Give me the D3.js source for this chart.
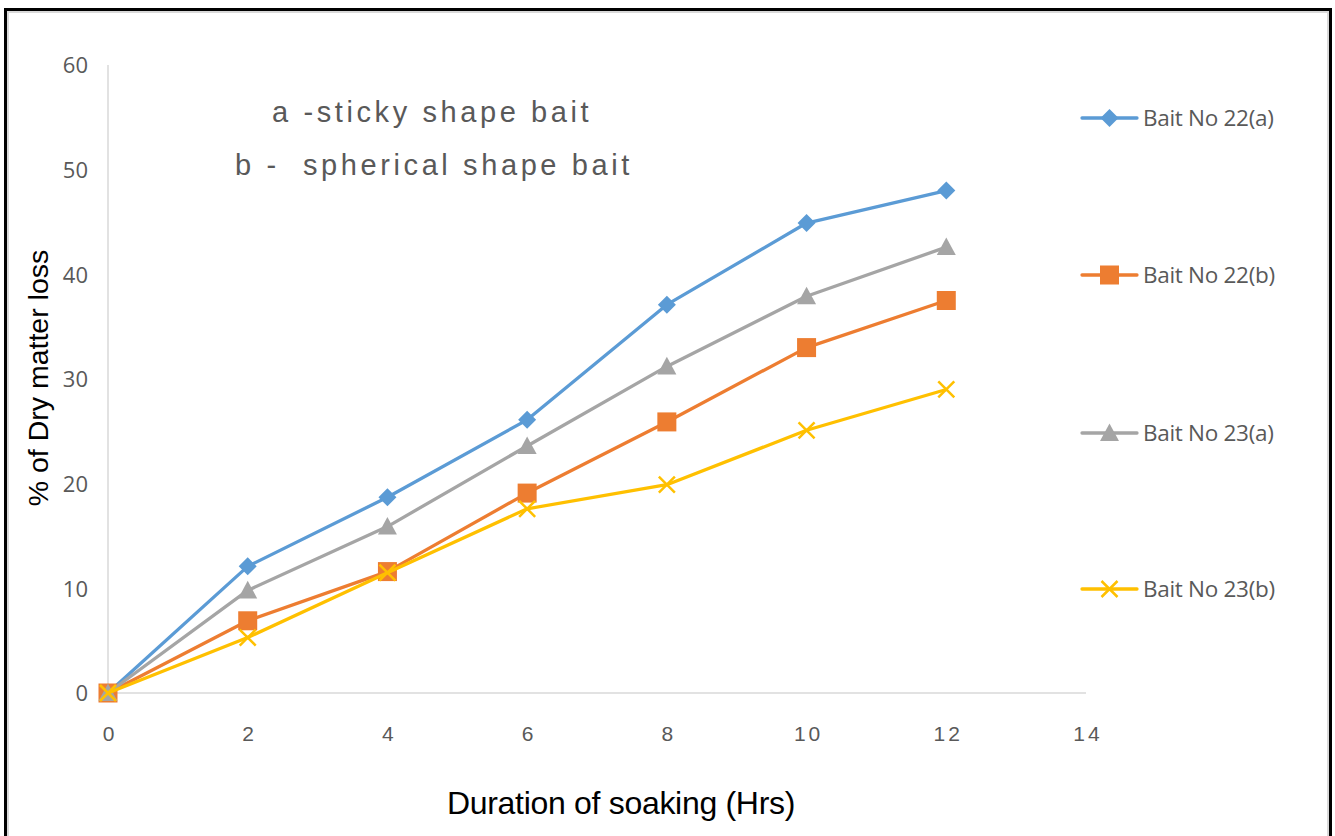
<!DOCTYPE html>
<html>
<head>
<meta charset="utf-8">
<script src="https://cdn.jsdelivr.net/npm/d3@7"></script>
<style>
  html, body { margin: 0; padding: 0; background: #fff; }
  svg { display: block; }
</style>
</head>
<body>
<svg id="chart" width="1335" height="836"></svg>
<script>
// Soaking durations (hours)
const hours = [0, 2, 4, 6, 8, 10, 12];

// % dry matter loss for each bait
const bait22a = [0, 12.1, 18.7, 26.1, 37.1, 44.9, 48.0];
const bait22b = [0, 6.9, 11.6, 19.1, 25.9, 33.0, 37.5];
const bait23a = [0, 9.8, 15.9, 23.6, 31.2, 37.9, 42.6];
const bait23b = [0, 5.3, 11.5, 17.6, 19.9, 25.1, 29.0];

const seriesNames = ["Bait No 22(a)", "Bait No 22(b)", "Bait No 23(a)", "Bait No 23(b)"];
const xTicks = [0, 2, 4, 6, 8, 10, 12, 14];
const yTicks = [0, 10, 20, 30, 40, 50, 60];
const notes = ["a -sticky shape bait", "b -  spherical shape bait"];

const series = [
  { name: seriesNames[0], values: bait22a, color: "#5b9bd5", marker: "diamond" },
  { name: seriesNames[1], values: bait22b, color: "#ed7d31", marker: "square" },
  { name: seriesNames[2], values: bait23a, color: "#a5a5a5", marker: "triangle" },
  { name: seriesNames[3], values: bait23b, color: "#ffc000", marker: "cross" }
];

const svg = d3.select("#chart");

// frame
svg.append("rect")
  .attr("x", 5.5).attr("y", 9.5).attr("width", 1325).attr("height", 840)
  .attr("fill", "none").attr("stroke", "#000").attr("stroke-width", 3);
svg.append("rect")
  .attr("x", 8).attr("y", 12).attr("width", 1320).attr("height", 840)
  .attr("fill", "none").attr("stroke", "#d9d9d9").attr("stroke-width", 2);

const x = d3.scaleLinear().domain([0, 14]).range([108, 1086]);
const y = d3.scaleLinear().domain([0, 60]).range([693, 65]);

// axis lines
svg.append("line")
  .attr("x1", x(0)).attr("x2", x(0)).attr("y1", y(60)).attr("y2", y(0))
  .attr("stroke", "#d9d9d9").attr("stroke-width", 1.5);
svg.append("line")
  .attr("x1", x(0)).attr("x2", x(14)).attr("y1", y(0)).attr("y2", y(0))
  .attr("stroke", "#d9d9d9").attr("stroke-width", 1.5);

// y tick labels
const yAxis = d3.axisLeft(y).tickValues(yTicks).tickSize(0).tickPadding(0);
const gy = svg.append("g").attr("transform", "translate(88,0)").call(yAxis);
gy.select(".domain").remove();
gy.selectAll("text")
  .attr("font-family", "'Open Sans', 'Liberation Sans', sans-serif")
  .attr("font-size", 22).attr("fill", "#595959").attr("dy", "0.35em");

// x tick labels
const xAxis = d3.axisBottom(x).tickValues(xTicks).tickSize(0).tickPadding(0);
const gx = svg.append("g").attr("transform", "translate(0,726)").call(xAxis);
gx.select(".domain").remove();
gx.selectAll("text")
  .attr("font-family", "'Liberation Sans', Arial, sans-serif")
  .attr("font-size", 21).attr("fill", "#595959")
  .attr("letter-spacing", "3px").attr("dy", "0.71em")
  .attr("dx", "1.5px");

// axis titles
svg.append("text")
  .attr("x", 621).attr("y", 814)
  .attr("text-anchor", "middle")
  .attr("font-family", "'Liberation Sans', Arial, sans-serif")
  .attr("font-size", 32).attr("fill", "#000")
  .attr("letter-spacing", "-0.3px")
  .text("Duration of soaking (Hrs)");

svg.append("text")
  .attr("transform", "translate(48,378) rotate(-90)")
  .attr("text-anchor", "middle")
  .attr("font-family", "'Liberation Sans', Arial, sans-serif")
  .attr("font-size", 28.5).attr("fill", "#000")
  .text("% of Dry matter loss");

// notes
svg.append("text")
  .attr("x", 272).attr("y", 122)
  .attr("font-family", "'Liberation Sans', Arial, sans-serif")
  .attr("font-size", 29).attr("fill", "#595959").attr("letter-spacing", "3.6px")
  .attr("xml:space", "preserve").style("white-space", "pre")
  .text(notes[0]);
svg.append("text")
  .attr("x", 235).attr("y", 175)
  .attr("font-family", "'Liberation Sans', Arial, sans-serif")
  .attr("font-size", 29).attr("fill", "#595959").attr("letter-spacing", "3.6px")
  .attr("xml:space", "preserve").style("white-space", "pre")
  .text(notes[1]);

// markers
function drawMarker(g, type, cx, cy, color) {
  if (type === "diamond") {
    const r = 9;
    g.append("path")
      .attr("d", `M${cx},${cy - r}L${cx + r},${cy}L${cx},${cy + r}L${cx - r},${cy}Z`)
      .attr("fill", color);
  } else if (type === "square") {
    const s = 19;
    g.append("rect").attr("x", cx - s / 2).attr("y", cy - s / 2)
      .attr("width", s).attr("height", s).attr("fill", color);
  } else if (type === "triangle") {
    const h = 16, w = 19;
    g.append("path")
      .attr("d", `M${cx},${cy - h * 0.6}L${cx + w / 2},${cy + h * 0.5}L${cx - w / 2},${cy + h * 0.5}Z`)
      .attr("fill", color);
  } else if (type === "cross") {
    const r = 8;
    g.append("path")
      .attr("d", `M${cx - r},${cy - r}L${cx + r},${cy + r}M${cx - r},${cy + r}L${cx + r},${cy - r}`)
      .attr("stroke", color).attr("stroke-width", 2.5).attr("fill", "none");
  }
}

const line = d3.line().x((d, i) => x(hours[i])).y(d => y(d));

series.forEach(s => {
  const g = svg.append("g");
  g.append("path")
    .attr("d", line(s.values))
    .attr("fill", "none").attr("stroke", s.color).attr("stroke-width", 3.3)
    .attr("stroke-linejoin", "round").attr("stroke-linecap", "round");
  s.values.forEach((v, i) => drawMarker(g, s.marker, x(hours[i]), y(v), s.color));
});

// legend
const legendY = [118, 275, 433, 589];
series.forEach((s, i) => {
  const g = svg.append("g");
  const ly = legendY[i];
  g.append("line").attr("x1", 1082).attr("x2", 1137).attr("y1", ly).attr("y2", ly)
    .attr("stroke", s.color).attr("stroke-width", 3.3).attr("stroke-linecap", "round");
  drawMarker(g, s.marker, 1109.5, ly, s.color);
  g.append("text")
    .attr("x", 1143).attr("y", ly).attr("dy", "0.35em")
    .attr("font-family", "'Open Sans', 'Liberation Sans', sans-serif")
    .attr("font-size", 22.5).attr("fill", "#595959")
    .attr("letter-spacing", "-0.3px")
    .text(s.name);
});
</script>
</body>
</html>
